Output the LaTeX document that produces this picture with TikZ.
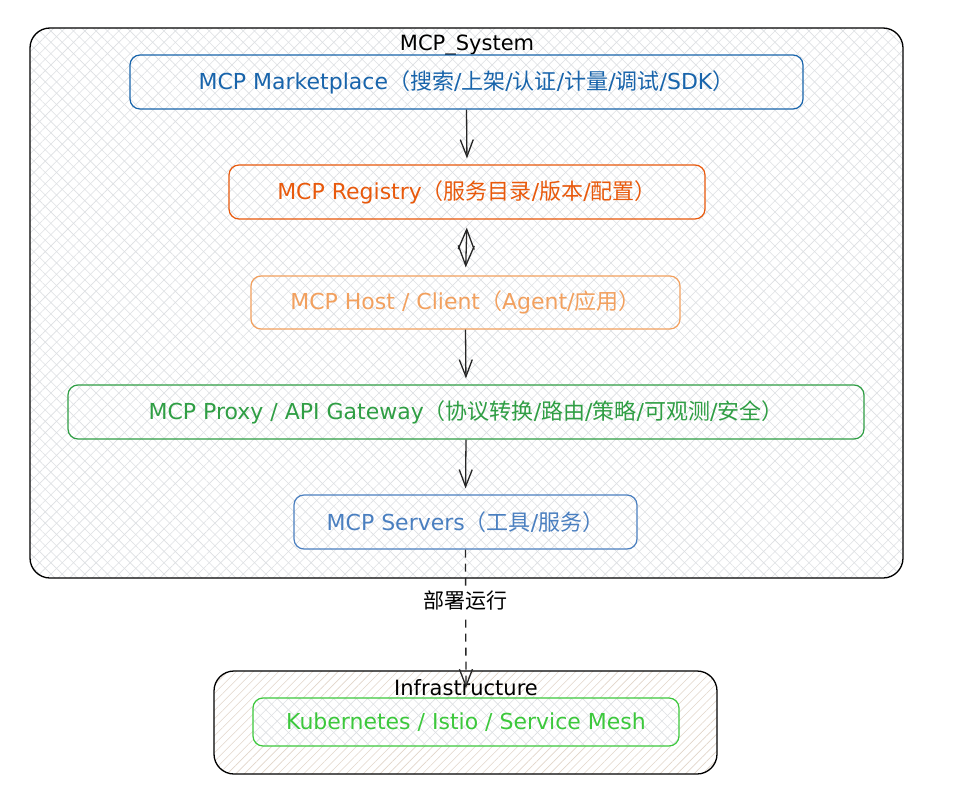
\documentclass[tikz,border=0pt]{standalone}
\usepackage{fontspec}
\setmainfont{DejaVu Sans}
\newfontfamily\cjkf{Noto Sans CJK SC}
\newcommand\cj[1]{{\cjkf #1}}
\usetikzlibrary{arrows.meta,patterns.meta}
\definecolor{cmarket}{HTML}{1864AB}
\definecolor{creg}{HTML}{E8590C}
\definecolor{chost}{HTML}{F2A05E}
\definecolor{cproxy}{HTML}{2F9E44}
\definecolor{cserv}{HTML}{4A7FC0}
\definecolor{ck8s}{HTML}{3CC83C}
\definecolor{hatchg}{HTML}{DDE0E3}
\definecolor{hatcht}{HTML}{E2D6CA}
\begin{document}
\begin{tikzpicture}[x=1pt,y=-1pt,
  crossfill/.style={preaction={fill=white},
    preaction={pattern={Lines[angle=45,distance=8pt,line width=0.6pt]},pattern color=#1},
    preaction={pattern={Lines[angle=-45,distance=8pt,line width=0.6pt]},pattern color=#1}},
  linefill/.style={preaction={fill=white},
    preaction={pattern={Lines[angle=45,distance=6pt,line width=0.6pt]},pattern color=#1}},
  group/.style={draw=black,line width=1.3pt,rounded corners=20pt},
  box/.style={draw=#1,text=#1,line width=1.2pt,rounded corners=10pt,
    crossfill=hatchg,font=\fontsize{22}{26}\selectfont,inner sep=0pt},
  title/.style={font=\fontsize{21}{25}\selectfont,text=black,inner sep=1pt},
  arr/.style={draw=black!85,line width=1.3pt,-{Straight Barb[length=17pt,width=13pt]}},
  darr/.style={draw=black!85,line width=1.3pt,
    {Straight Barb[length=20pt,width=16pt]}-{Straight Barb[length=20pt,width=16pt]}}
]
\useasboundingbox (0,0) rectangle (964,806);
\fill[white] (0,0) rectangle (964,806);

% groups
\path[group,crossfill=hatchg] (30,28) rectangle (903,578);
\node[title] (systitle) at (467,45) {MCP\_System};
\path[group,linefill=hatcht] (214,671) rectangle (717,774);
\node[title] (infratitle) at (466,688) {Infrastructure};

% nodes
\node[box=cmarket,minimum width=673pt,minimum height=54pt] (mk) at (466.5,82)
  {MCP Marketplace\cj{（搜索}/\cj{上架}/\cj{认证}/\cj{计量}/\cj{调试}/SDK\cj{）}};
\node[box=creg,minimum width=476pt,minimum height=54pt] (reg) at (467,192)
  {MCP Registry\cj{（服务目录}/\cj{版本}/\cj{配置）}};
\node[box=chost,minimum width=429pt,minimum height=53pt] (host) at (465.5,302.5)
  {MCP Host / Client\cj{（}Agent/\cj{应用）}};
\node[box=cproxy,minimum width=796pt,minimum height=54pt] (proxy) at (466,412)
  {MCP Proxy / API Gateway\cj{（协议转换}/\cj{路由}/\cj{策略}/\cj{可观测}/\cj{安全）}};
\node[box=cserv,minimum width=343pt,minimum height=54pt] (serv) at (465.5,522)
  {MCP Servers\cj{（工具}/\cj{服务）}};
\node[box=ck8s,minimum width=426pt,minimum height=48pt] (k8s) at (466,722)
  {Kubernetes / Istio / Service Mesh};

% connectors
\coordinate (infratop) at (466,688);
\draw[arr,shorten >=6pt] (mk.south) -- (reg.north);
\draw[darr,shorten >=8pt,shorten <=8pt] (reg.south) -- (host.north);
\draw[arr,shorten >=6pt] (host.south) -- (proxy.north);
\draw[arr,shorten >=6pt] (proxy.south) -- (serv.north);
\draw[arr,dash pattern=on 8pt off 6pt] (serv.south) -- (infratop)
  node[pos=0.37,fill=white,inner sep=3pt,font=\fontsize{21}{25}\selectfont\cjkf] (deploy) {部署运行};
\end{tikzpicture}
\end{document}
